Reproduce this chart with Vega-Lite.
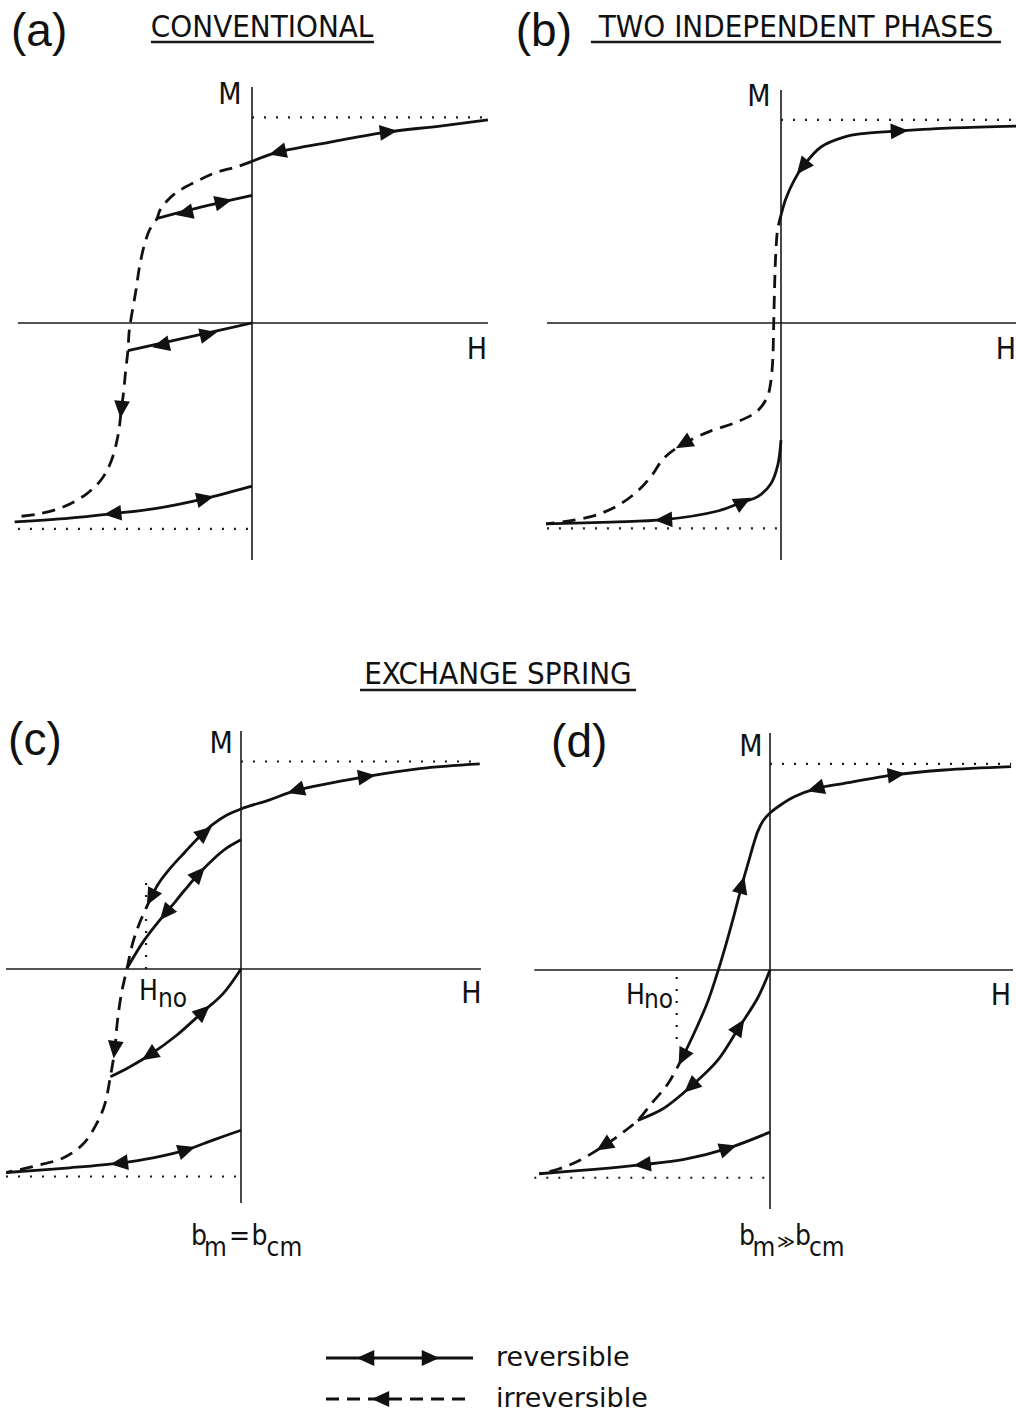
{
  "$schema": "https://vega.github.io/schema/vega-lite/v6.json",
  "background": "white",
  "padding": 0,
  "config": {"view": {"stroke": null}, "concat": {"spacing": 0}},
  "datasets": {
    "fig": [
      {"p":"a","g":"axis","s":"h","i":0,"H":-0.996,"M":0},
      {"p":"a","g":"axis","s":"h","i":1,"H":1.004,"M":0},
      {"p":"a","g":"axis","s":"v","i":0,"H":0,"M":1.004},
      {"p":"a","g":"axis","s":"v","i":1,"H":0,"M":-1.009},
      {"p":"a","g":"dot","s":"t","i":0,"H":0,"M":0.875},
      {"p":"a","g":"dot","s":"t","i":1,"H":1.004,"M":0.875},
      {"p":"a","g":"dot","s":"b","i":0,"H":-0.996,"M":-0.876},
      {"p":"a","g":"dot","s":"b","i":1,"H":0,"M":-0.876},
      {"p":"a","g":"uline","s":"u","i":0,"H":-0.43,"M":1.196},
      {"p":"a","g":"uline","s":"u","i":1,"H":0.519,"M":1.196},
      {"p":"a","g":"rev","s":"1","i":0,"H":1.004,"M":0.864},
      {"p":"a","g":"rev","s":"1","i":1,"H":0.8,"M":0.838},
      {"p":"a","g":"rev","s":"1","i":2,"H":0.579,"M":0.813},
      {"p":"a","g":"rev","s":"1","i":3,"H":0.345,"M":0.772},
      {"p":"a","g":"rev","s":"1","i":4,"H":0.111,"M":0.727},
      {"p":"a","g":"rev","s":"1","i":5,"H":0,"M":0.688},
      {"p":"a","g":"rev","s":"2","i":0,"H":-0.404,"M":0.445},
      {"p":"a","g":"rev","s":"2","i":1,"H":-0.2,"M":0.497},
      {"p":"a","g":"rev","s":"2","i":2,"H":0,"M":0.543},
      {"p":"a","g":"rev","s":"3","i":0,"H":-0.528,"M":-0.118},
      {"p":"a","g":"rev","s":"3","i":1,"H":-0.26,"M":-0.058},
      {"p":"a","g":"rev","s":"3","i":2,"H":0,"M":0},
      {"p":"a","g":"rev","s":"4","i":0,"H":0,"M":-0.694},
      {"p":"a","g":"rev","s":"4","i":1,"H":-0.201,"M":-0.747},
      {"p":"a","g":"rev","s":"4","i":2,"H":-0.421,"M":-0.791},
      {"p":"a","g":"rev","s":"4","i":3,"H":-0.591,"M":-0.811},
      {"p":"a","g":"rev","s":"4","i":4,"H":-0.776,"M":-0.83},
      {"p":"a","g":"rev","s":"4","i":5,"H":-1.01,"M":-0.846},
      {"p":"a","g":"irr","s":"d","i":0,"H":0,"M":0.688},
      {"p":"a","g":"irr","s":"d","i":1,"H":-0.067,"M":0.664},
      {"p":"a","g":"irr","s":"d","i":2,"H":-0.152,"M":0.641},
      {"p":"a","g":"irr","s":"d","i":3,"H":-0.237,"M":0.602},
      {"p":"a","g":"irr","s":"d","i":4,"H":-0.322,"M":0.555},
      {"p":"a","g":"irr","s":"d","i":5,"H":-0.365,"M":0.516},
      {"p":"a","g":"irr","s":"d","i":6,"H":-0.393,"M":0.477},
      {"p":"a","g":"irr","s":"d","i":7,"H":-0.404,"M":0.445},
      {"p":"a","g":"irr","s":"d","i":8,"H":-0.435,"M":0.398},
      {"p":"a","g":"irr","s":"d","i":9,"H":-0.457,"M":0.336},
      {"p":"a","g":"irr","s":"d","i":10,"H":-0.478,"M":0.243},
      {"p":"a","g":"irr","s":"d","i":11,"H":-0.495,"M":0.132},
      {"p":"a","g":"irr","s":"d","i":12,"H":-0.514,"M":0.023},
      {"p":"a","g":"irr","s":"d","i":13,"H":-0.523,"M":-0.04},
      {"p":"a","g":"irr","s":"d","i":14,"H":-0.528,"M":-0.118},
      {"p":"a","g":"irr","s":"d","i":15,"H":-0.537,"M":-0.196},
      {"p":"a","g":"irr","s":"d","i":16,"H":-0.546,"M":-0.29},
      {"p":"a","g":"irr","s":"d","i":17,"H":-0.556,"M":-0.368},
      {"p":"a","g":"irr","s":"d","i":18,"H":-0.57,"M":-0.478},
      {"p":"a","g":"irr","s":"d","i":19,"H":-0.599,"M":-0.587},
      {"p":"a","g":"irr","s":"d","i":20,"H":-0.641,"M":-0.666},
      {"p":"a","g":"irr","s":"d","i":21,"H":-0.705,"M":-0.728},
      {"p":"a","g":"irr","s":"d","i":22,"H":-0.804,"M":-0.783},
      {"p":"a","g":"irr","s":"d","i":23,"H":-0.918,"M":-0.814},
      {"p":"a","g":"irr","s":"d","i":24,"H":-1.01,"M":-0.825},
      {"p":"a","g":"arr","H":0.579,"M":0.813,"heading":83},
      {"p":"a","g":"arr","H":0.111,"M":0.727,"heading":256},
      {"p":"a","g":"arr","H":-0.286,"M":0.468,"heading":257},
      {"p":"a","g":"arr","H":-0.123,"M":0.516,"heading":77},
      {"p":"a","g":"arr","H":-0.386,"M":-0.094,"heading":257},
      {"p":"a","g":"arr","H":-0.187,"M":-0.048,"heading":77},
      {"p":"a","g":"arr","H":-0.556,"M":-0.366,"heading":185},
      {"p":"a","g":"arr","H":-0.201,"M":-0.747,"heading":77},
      {"p":"a","g":"arr","H":-0.591,"M":-0.811,"heading":264},
      {"p":"a","g":"tag","t":"(a)","H":-0.906,"M":1.238},
      {"p":"a","g":"title","t":"CONVENTIONAL","H":0.043,"M":1.257},
      {"p":"a","g":"lab","t":"M","H":-0.094,"M":0.97},
      {"p":"a","g":"lab","t":"H","H":0.957,"M":-0.115},

      {"p":"b","g":"axis","s":"h","i":0,"H":-0.996,"M":0},
      {"p":"b","g":"axis","s":"h","i":1,"H":1.009,"M":0},
      {"p":"b","g":"axis","s":"v","i":0,"H":0,"M":0.991},
      {"p":"b","g":"axis","s":"v","i":1,"H":0,"M":-1.009},
      {"p":"b","g":"dot","s":"t","i":0,"H":0,"M":0.864},
      {"p":"b","g":"dot","s":"t","i":1,"H":1.009,"M":0.864},
      {"p":"b","g":"dot","s":"b","i":0,"H":-0.996,"M":-0.874},
      {"p":"b","g":"dot","s":"b","i":1,"H":0,"M":-0.874},
      {"p":"b","g":"uline","s":"u","i":0,"H":-0.809,"M":1.196},
      {"p":"b","g":"uline","s":"u","i":1,"H":0.936,"M":1.196},
      {"p":"b","g":"rev","s":"1","i":0,"H":1.009,"M":0.838},
      {"p":"b","g":"rev","s":"1","i":1,"H":0.732,"M":0.83},
      {"p":"b","g":"rev","s":"1","i":2,"H":0.502,"M":0.817},
      {"p":"b","g":"rev","s":"1","i":3,"H":0.349,"M":0.806},
      {"p":"b","g":"rev","s":"1","i":4,"H":0.268,"M":0.791},
      {"p":"b","g":"rev","s":"1","i":5,"H":0.17,"M":0.749},
      {"p":"b","g":"rev","s":"1","i":6,"H":0.092,"M":0.664},
      {"p":"b","g":"rev","s":"1","i":7,"H":0.057,"M":0.609},
      {"p":"b","g":"rev","s":"1","i":8,"H":0.021,"M":0.53},
      {"p":"b","g":"rev","s":"1","i":9,"H":0.003,"M":0.47},
      {"p":"b","g":"irr","s":"d","i":0,"H":0.003,"M":0.47},
      {"p":"b","g":"irr","s":"d","i":1,"H":-0.014,"M":0.4},
      {"p":"b","g":"irr","s":"d","i":2,"H":-0.022,"M":0.3},
      {"p":"b","g":"irr","s":"d","i":3,"H":-0.026,"M":0.2},
      {"p":"b","g":"irr","s":"d","i":4,"H":-0.031,"M":0},
      {"p":"b","g":"irr","s":"d","i":5,"H":-0.035,"M":-0.155},
      {"p":"b","g":"irr","s":"d","i":6,"H":-0.043,"M":-0.247},
      {"p":"b","g":"irr","s":"d","i":7,"H":-0.057,"M":-0.311},
      {"p":"b","g":"irr","s":"d","i":8,"H":-0.099,"M":-0.373},
      {"p":"b","g":"irr","s":"d","i":9,"H":-0.184,"M":-0.42},
      {"p":"b","g":"irr","s":"d","i":10,"H":-0.298,"M":-0.459},
      {"p":"b","g":"irr","s":"d","i":11,"H":-0.413,"M":-0.513},
      {"p":"b","g":"irr","s":"d","i":12,"H":-0.498,"M":-0.575},
      {"p":"b","g":"irr","s":"d","i":13,"H":-0.553,"M":-0.653},
      {"p":"b","g":"irr","s":"d","i":14,"H":-0.61,"M":-0.715},
      {"p":"b","g":"irr","s":"d","i":15,"H":-0.695,"M":-0.777},
      {"p":"b","g":"irr","s":"d","i":16,"H":-0.809,"M":-0.824},
      {"p":"b","g":"irr","s":"d","i":17,"H":-1.0,"M":-0.855},
      {"p":"b","g":"rev","s":"2","i":0,"H":0,"M":-0.498},
      {"p":"b","g":"rev","s":"2","i":1,"H":-0.014,"M":-0.606},
      {"p":"b","g":"rev","s":"2","i":2,"H":-0.043,"M":-0.684},
      {"p":"b","g":"rev","s":"2","i":3,"H":-0.099,"M":-0.739},
      {"p":"b","g":"rev","s":"2","i":4,"H":-0.163,"M":-0.762},
      {"p":"b","g":"rev","s":"2","i":5,"H":-0.269,"M":-0.8},
      {"p":"b","g":"rev","s":"2","i":6,"H":-0.498,"M":-0.837},
      {"p":"b","g":"rev","s":"2","i":7,"H":-0.723,"M":-0.847},
      {"p":"b","g":"rev","s":"2","i":8,"H":-1.0,"M":-0.855},
      {"p":"b","g":"arr","H":0.502,"M":0.817,"heading":87},
      {"p":"b","g":"arr","H":0.092,"M":0.664,"heading":219},
      {"p":"b","g":"arr","H":-0.413,"M":-0.513,"heading":240},
      {"p":"b","g":"arr","H":-0.163,"M":-0.762,"heading":62},
      {"p":"b","g":"arr","H":-0.498,"M":-0.837,"heading":267},
      {"p":"b","g":"tag","t":"(b)","H":-1.009,"M":1.238},
      {"p":"b","g":"title","t":"TWO INDEPENDENT PHASES","H":0.064,"M":1.257},
      {"p":"b","g":"lab","t":"M","H":-0.094,"M":0.962},
      {"p":"b","g":"lab","t":"H","H":0.957,"M":-0.115},

      {"p":"hdr","g":"title","t":"EXCHANGE SPRING","H":2.106,"M":-0.149},
      {"p":"hdr","g":"uline","s":"u","i":0,"H":1.519,"M":-0.2128},
      {"p":"hdr","g":"uline","s":"u","i":1,"H":2.694,"M":-0.2128},

      {"p":"c","g":"axis","s":"h","i":0,"H":-1.0,"M":0},
      {"p":"c","g":"axis","s":"h","i":1,"H":1.021,"M":0},
      {"p":"c","g":"axis","s":"v","i":0,"H":0,"M":1.013},
      {"p":"c","g":"axis","s":"v","i":1,"H":0,"M":-0.996},
      {"p":"c","g":"dot","s":"t","i":0,"H":0,"M":0.883},
      {"p":"c","g":"dot","s":"t","i":1,"H":1.016,"M":0.883},
      {"p":"c","g":"dot","s":"b","i":0,"H":-1.0,"M":-0.883},
      {"p":"c","g":"dot","s":"b","i":1,"H":0,"M":-0.883},
      {"p":"c","g":"dot","s":"n","i":0,"H":-0.404,"M":0},
      {"p":"c","g":"dot","s":"n","i":1,"H":-0.404,"M":0.37},
      {"p":"c","g":"rev","s":"1","i":0,"H":1.016,"M":0.873},
      {"p":"c","g":"rev","s":"1","i":1,"H":0.76,"M":0.853},
      {"p":"c","g":"rev","s":"1","i":2,"H":0.533,"M":0.819},
      {"p":"c","g":"rev","s":"1","i":3,"H":0.235,"M":0.76},
      {"p":"c","g":"rev","s":"1","i":4,"H":0.122,"M":0.72},
      {"p":"c","g":"rev","s":"1","i":5,"H":0,"M":0.681},
      {"p":"c","g":"rev","s":"1","i":6,"H":-0.06,"M":0.655},
      {"p":"c","g":"rev","s":"1","i":7,"H":-0.12,"M":0.615},
      {"p":"c","g":"rev","s":"1","i":8,"H":-0.18,"M":0.56},
      {"p":"c","g":"rev","s":"1","i":9,"H":-0.24,"M":0.496},
      {"p":"c","g":"rev","s":"1","i":10,"H":-0.3,"M":0.43},
      {"p":"c","g":"rev","s":"1","i":11,"H":-0.35,"M":0.365},
      {"p":"c","g":"rev","s":"1","i":12,"H":-0.382,"M":0.306},
      {"p":"c","g":"irr","s":"d","i":0,"H":-0.382,"M":0.306},
      {"p":"c","g":"irr","s":"d","i":1,"H":-0.431,"M":0.197},
      {"p":"c","g":"irr","s":"d","i":2,"H":-0.46,"M":0.113},
      {"p":"c","g":"irr","s":"d","i":3,"H":-0.485,"M":0.003},
      {"p":"c","g":"irr","s":"d","i":4,"H":-0.509,"M":-0.106},
      {"p":"c","g":"irr","s":"d","i":5,"H":-0.526,"M":-0.223},
      {"p":"c","g":"irr","s":"d","i":6,"H":-0.537,"M":-0.341},
      {"p":"c","g":"irr","s":"d","i":7,"H":-0.556,"M":-0.459},
      {"p":"c","g":"irr","s":"d","i":8,"H":-0.58,"M":-0.577},
      {"p":"c","g":"irr","s":"d","i":9,"H":-0.616,"M":-0.661},
      {"p":"c","g":"irr","s":"d","i":10,"H":-0.672,"M":-0.745},
      {"p":"c","g":"irr","s":"d","i":11,"H":-0.757,"M":-0.804},
      {"p":"c","g":"irr","s":"d","i":12,"H":-0.871,"M":-0.837},
      {"p":"c","g":"irr","s":"d","i":13,"H":-0.999,"M":-0.866},
      {"p":"c","g":"rev","s":"2","i":0,"H":0,"M":0.55},
      {"p":"c","g":"rev","s":"2","i":1,"H":-0.06,"M":0.515},
      {"p":"c","g":"rev","s":"2","i":2,"H":-0.12,"M":0.465},
      {"p":"c","g":"rev","s":"2","i":3,"H":-0.18,"M":0.405},
      {"p":"c","g":"rev","s":"2","i":4,"H":-0.24,"M":0.335},
      {"p":"c","g":"rev","s":"2","i":5,"H":-0.3,"M":0.262},
      {"p":"c","g":"rev","s":"2","i":6,"H":-0.36,"M":0.19},
      {"p":"c","g":"rev","s":"2","i":7,"H":-0.42,"M":0.11},
      {"p":"c","g":"rev","s":"2","i":8,"H":-0.485,"M":0.003},
      {"p":"c","g":"rev","s":"3","i":0,"H":0,"M":0},
      {"p":"c","g":"rev","s":"3","i":1,"H":-0.077,"M":-0.106},
      {"p":"c","g":"rev","s":"3","i":2,"H":-0.162,"M":-0.182},
      {"p":"c","g":"rev","s":"3","i":3,"H":-0.275,"M":-0.283},
      {"p":"c","g":"rev","s":"3","i":4,"H":-0.389,"M":-0.366},
      {"p":"c","g":"rev","s":"3","i":5,"H":-0.474,"M":-0.417},
      {"p":"c","g":"rev","s":"3","i":6,"H":-0.556,"M":-0.459},
      {"p":"c","g":"rev","s":"4","i":0,"H":0,"M":-0.686},
      {"p":"c","g":"rev","s":"4","i":1,"H":-0.119,"M":-0.728},
      {"p":"c","g":"rev","s":"4","i":2,"H":-0.233,"M":-0.77},
      {"p":"c","g":"rev","s":"4","i":3,"H":-0.374,"M":-0.804},
      {"p":"c","g":"rev","s":"4","i":4,"H":-0.516,"M":-0.826},
      {"p":"c","g":"rev","s":"4","i":5,"H":-0.729,"M":-0.846},
      {"p":"c","g":"rev","s":"4","i":6,"H":-0.999,"M":-0.866},
      {"p":"c","g":"arr","H":0.533,"M":0.819,"heading":82},
      {"p":"c","g":"arr","H":0.235,"M":0.76,"heading":253},
      {"p":"c","g":"arr","H":-0.155,"M":0.58,"heading":50},
      {"p":"c","g":"arr","H":-0.382,"M":0.306,"heading":208},
      {"p":"c","g":"arr","H":-0.18,"M":0.405,"heading":42},
      {"p":"c","g":"arr","H":-0.32,"M":0.238,"heading":220},
      {"p":"c","g":"arr","H":-0.537,"M":-0.341,"heading":187},
      {"p":"c","g":"arr","H":-0.162,"M":-0.182,"heading":48},
      {"p":"c","g":"arr","H":-0.389,"M":-0.366,"heading":236},
      {"p":"c","g":"arr","H":-0.233,"M":-0.77,"heading":72},
      {"p":"c","g":"arr","H":-0.516,"M":-0.826,"heading":263},
      {"p":"c","g":"tag","t":"(c)","H":-0.877,"M":0.97},
      {"p":"c","g":"lab","t":"M","H":-0.085,"M":0.958},
      {"p":"c","g":"lab","t":"H","H":0.98,"M":-0.106},
      {"p":"c","g":"txt","t":"H","H":-0.434,"M":-0.132},
      {"p":"c","g":"sub","t":"no","H":-0.353,"M":-0.162},
      {"p":"c","g":"txt","t":"b","H":-0.213,"M":-1.174},
      {"p":"c","g":"sub","t":"m","H":-0.157,"M":-1.221},
      {"p":"c","g":"txt","t":"=","H":-0.051,"M":-1.174},
      {"p":"c","g":"txt","t":"b","H":0.045,"M":-1.174},
      {"p":"c","g":"sub","t":"cm","H":0.109,"M":-1.221},

      {"p":"d","g":"axis","s":"h","i":0,"H":-1.003,"M":0},
      {"p":"d","g":"axis","s":"h","i":1,"H":1.034,"M":0},
      {"p":"d","g":"axis","s":"v","i":0,"H":0,"M":1.009},
      {"p":"d","g":"axis","s":"v","i":1,"H":0,"M":-1.017},
      {"p":"d","g":"dot","s":"t","i":0,"H":0,"M":0.877},
      {"p":"d","g":"dot","s":"t","i":1,"H":1.026,"M":0.877},
      {"p":"d","g":"dot","s":"b","i":0,"H":-1.003,"M":-0.884},
      {"p":"d","g":"dot","s":"b","i":1,"H":0,"M":-0.884},
      {"p":"d","g":"dot","s":"n","i":0,"H":-0.397,"M":-0.03},
      {"p":"d","g":"dot","s":"n","i":1,"H":-0.397,"M":-0.33},
      {"p":"d","g":"rev","s":"1","i":0,"H":1.026,"M":0.865},
      {"p":"d","g":"rev","s":"1","i":1,"H":0.742,"M":0.851},
      {"p":"d","g":"rev","s":"1","i":2,"H":0.536,"M":0.831},
      {"p":"d","g":"rev","s":"1","i":3,"H":0.316,"M":0.794},
      {"p":"d","g":"rev","s":"1","i":4,"H":0.196,"M":0.772},
      {"p":"d","g":"rev","s":"1","i":5,"H":0.103,"M":0.737},
      {"p":"d","g":"rev","s":"1","i":6,"H":0.045,"M":0.702},
      {"p":"d","g":"rev","s":"1","i":7,"H":0,"M":0.668},
      {"p":"d","g":"rev","s":"1","i":8,"H":-0.03,"M":0.634},
      {"p":"d","g":"rev","s":"1","i":9,"H":-0.052,"M":0.59},
      {"p":"d","g":"rev","s":"1","i":10,"H":-0.07,"M":0.535},
      {"p":"d","g":"rev","s":"1","i":11,"H":-0.09,"M":0.465},
      {"p":"d","g":"rev","s":"1","i":12,"H":-0.116,"M":0.375},
      {"p":"d","g":"rev","s":"1","i":13,"H":-0.152,"M":0.237},
      {"p":"d","g":"rev","s":"1","i":14,"H":-0.194,"M":0.086},
      {"p":"d","g":"rev","s":"1","i":15,"H":-0.23,"M":-0.032},
      {"p":"d","g":"rev","s":"1","i":16,"H":-0.265,"M":-0.135},
      {"p":"d","g":"rev","s":"1","i":17,"H":-0.308,"M":-0.236},
      {"p":"d","g":"rev","s":"1","i":18,"H":-0.371,"M":-0.37},
      {"p":"d","g":"irr","s":"d","i":0,"H":-0.371,"M":-0.37},
      {"p":"d","g":"irr","s":"d","i":1,"H":-0.435,"M":-0.485},
      {"p":"d","g":"irr","s":"d","i":2,"H":-0.506,"M":-0.57},
      {"p":"d","g":"irr","s":"d","i":3,"H":-0.563,"M":-0.64},
      {"p":"d","g":"irr","s":"d","i":4,"H":-0.634,"M":-0.697},
      {"p":"d","g":"irr","s":"d","i":5,"H":-0.705,"M":-0.747},
      {"p":"d","g":"irr","s":"d","i":6,"H":-0.818,"M":-0.814},
      {"p":"d","g":"irr","s":"d","i":7,"H":-0.903,"M":-0.848},
      {"p":"d","g":"irr","s":"d","i":8,"H":-0.982,"M":-0.867},
      {"p":"d","g":"rev","s":"2","i":0,"H":0,"M":0},
      {"p":"d","g":"rev","s":"2","i":1,"H":-0.052,"M":-0.118},
      {"p":"d","g":"rev","s":"2","i":2,"H":-0.131,"M":-0.243},
      {"p":"d","g":"rev","s":"2","i":3,"H":-0.223,"M":-0.385},
      {"p":"d","g":"rev","s":"2","i":4,"H":-0.336,"M":-0.495},
      {"p":"d","g":"rev","s":"2","i":5,"H":-0.45,"M":-0.587},
      {"p":"d","g":"rev","s":"2","i":6,"H":-0.563,"M":-0.64},
      {"p":"d","g":"rev","s":"3","i":0,"H":0,"M":-0.69},
      {"p":"d","g":"rev","s":"3","i":1,"H":-0.18,"M":-0.759},
      {"p":"d","g":"rev","s":"3","i":2,"H":-0.365,"M":-0.806},
      {"p":"d","g":"rev","s":"3","i":3,"H":-0.542,"M":-0.828},
      {"p":"d","g":"rev","s":"3","i":4,"H":-0.748,"M":-0.848},
      {"p":"d","g":"rev","s":"3","i":5,"H":-0.982,"M":-0.867},
      {"p":"d","g":"arr","H":0.536,"M":0.831,"heading":83},
      {"p":"d","g":"arr","H":0.196,"M":0.772,"heading":254},
      {"p":"d","g":"arr","H":-0.12,"M":0.36,"heading":15},
      {"p":"d","g":"arr","H":-0.371,"M":-0.37,"heading":207},
      {"p":"d","g":"arr","H":-0.705,"M":-0.747,"heading":237},
      {"p":"d","g":"arr","H":-0.131,"M":-0.243,"heading":33},
      {"p":"d","g":"arr","H":-0.336,"M":-0.495,"heading":228},
      {"p":"d","g":"arr","H":-0.18,"M":-0.759,"heading":72},
      {"p":"d","g":"arr","H":-0.542,"M":-0.828,"heading":264},
      {"p":"d","g":"tag","t":"(d)","H":-0.812,"M":0.965},
      {"p":"d","g":"lab","t":"M","H":-0.081,"M":0.95},
      {"p":"d","g":"lab","t":"H","H":0.983,"M":-0.11},
      {"p":"d","g":"txt","t":"H","H":-0.613,"M":-0.145},
      {"p":"d","g":"sub","t":"no","H":-0.536,"M":-0.162},
      {"p":"d","g":"txt","t":"b","H":-0.132,"M":-1.17},
      {"p":"d","g":"sub","t":"m","H":-0.075,"M":-1.217},
      {"p":"d","g":"sym","t":"≫","H":0.03,"M":-1.185},
      {"p":"d","g":"txt","t":"b","H":0.106,"M":-1.17},
      {"p":"d","g":"sub","t":"cm","H":0.166,"M":-1.217},

      {"p":"leg","g":"rev","s":"r","i":0,"H":1.3745,"M":-0.2468},
      {"p":"leg","g":"rev","s":"r","i":1,"H":2.0,"M":-0.2468},
      {"p":"leg","g":"irr","s":"q","i":0,"H":1.3745,"M":-0.4213},
      {"p":"leg","g":"irr","s":"q","i":1,"H":2.0,"M":-0.4213},
      {"p":"leg","g":"arr","H":1.5447,"M":-0.2468,"heading":270},
      {"p":"leg","g":"arr","H":1.817,"M":-0.2468,"heading":90},
      {"p":"leg","g":"arr","H":1.6085,"M":-0.4213,"heading":270},
      {"p":"leg","g":"key","t":"reversible","H":2.098,"M":-0.2468},
      {"p":"leg","g":"key","t":"irreversible","H":2.098,"M":-0.4213}
    ]
  },
  "vconcat": [
    {
      "hconcat": [
        {
          "width": 508, "height": 640,
          "data": {"name": "fig"},
          "transform": [{"filter": "datum.p == 'a'"}],
          "encoding": {
            "x": {"field": "H", "type": "quantitative", "axis": null, "scale": {"domain": [-1.05957, 1.10213], "nice": false, "zero": false}},
            "y": {"field": "M", "type": "quantitative", "axis": null, "scale": {"domain": [-1.34894, 1.37447], "nice": false, "zero": false}}
          },
          "layer": [
            {"transform": [{"filter": "datum.g == 'axis'"}], "mark": {"type": "line", "color": "#1a1a1a", "strokeWidth": 1.6}, "encoding": {"detail": {"field": "s", "type": "nominal"}, "order": {"field": "i", "type": "quantitative"}}},
            {"transform": [{"filter": "datum.g == 'dot'"}], "mark": {"type": "line", "color": "#1a1a1a", "strokeWidth": 2.2, "strokeDash": [2, 10]}, "encoding": {"detail": {"field": "s", "type": "nominal"}, "order": {"field": "i", "type": "quantitative"}}},
            {"transform": [{"filter": "datum.g == 'uline'"}], "mark": {"type": "line", "color": "#1a1a1a", "strokeWidth": 2.6}, "encoding": {"detail": {"field": "s", "type": "nominal"}, "order": {"field": "i", "type": "quantitative"}}},
            {"transform": [{"filter": "datum.g == 'rev'"}], "mark": {"type": "line", "color": "#111", "strokeWidth": 2.8, "interpolate": "catmull-rom"}, "encoding": {"detail": {"field": "s", "type": "nominal"}, "order": {"field": "i", "type": "quantitative"}}},
            {"transform": [{"filter": "datum.g == 'irr'"}], "mark": {"type": "line", "color": "#111", "strokeWidth": 2.8, "strokeDash": [13, 8], "interpolate": "catmull-rom"}, "encoding": {"detail": {"field": "s", "type": "nominal"}, "order": {"field": "i", "type": "quantitative"}}},
            {"transform": [{"filter": "datum.g == 'arr'"}], "mark": {"type": "point", "shape": "M0,-0.85L0.72,0.75L-0.72,0.75Z", "filled": true, "color": "#111", "opacity": 1, "size": 480}, "encoding": {"angle": {"field": "heading", "type": "quantitative", "scale": null}}},
            {"transform": [{"filter": "datum.g == 'tag'"}], "mark": {"type": "text", "font": "Liberation Sans", "fontSize": 46, "align": "center", "baseline": "middle", "color": "#111"}, "encoding": {"text": {"field": "t"}}},
            {"transform": [{"filter": "datum.g == 'title'"}], "mark": {"type": "text", "font": "DejaVu Sans Condensed, DejaVu Sans", "fontSize": 31, "align": "center", "baseline": "middle", "color": "#111"}, "encoding": {"text": {"field": "t"}}},
            {"transform": [{"filter": "datum.g == 'lab'"}], "mark": {"type": "text", "font": "DejaVu Sans Condensed, DejaVu Sans", "fontSize": 30, "align": "center", "baseline": "middle", "color": "#111"}, "encoding": {"text": {"field": "t"}}}
          ]
        },
        {
          "width": 508, "height": 640,
          "data": {"name": "fig"},
          "transform": [{"filter": "datum.p == 'b'"}],
          "encoding": {
            "x": {"field": "H", "type": "quantitative", "axis": null, "scale": {"domain": [-1.14894, 1.01277], "nice": false, "zero": false}},
            "y": {"field": "M", "type": "quantitative", "axis": null, "scale": {"domain": [-1.34894, 1.37447], "nice": false, "zero": false}}
          },
          "layer": [
            {"transform": [{"filter": "datum.g == 'axis'"}], "mark": {"type": "line", "color": "#1a1a1a", "strokeWidth": 1.6}, "encoding": {"detail": {"field": "s", "type": "nominal"}, "order": {"field": "i", "type": "quantitative"}}},
            {"transform": [{"filter": "datum.g == 'dot'"}], "mark": {"type": "line", "color": "#1a1a1a", "strokeWidth": 2.2, "strokeDash": [2, 10]}, "encoding": {"detail": {"field": "s", "type": "nominal"}, "order": {"field": "i", "type": "quantitative"}}},
            {"transform": [{"filter": "datum.g == 'uline'"}], "mark": {"type": "line", "color": "#1a1a1a", "strokeWidth": 2.6}, "encoding": {"detail": {"field": "s", "type": "nominal"}, "order": {"field": "i", "type": "quantitative"}}},
            {"transform": [{"filter": "datum.g == 'rev'"}], "mark": {"type": "line", "color": "#111", "strokeWidth": 2.8, "interpolate": "catmull-rom"}, "encoding": {"detail": {"field": "s", "type": "nominal"}, "order": {"field": "i", "type": "quantitative"}}},
            {"transform": [{"filter": "datum.g == 'irr'"}], "mark": {"type": "line", "color": "#111", "strokeWidth": 2.8, "strokeDash": [13, 8], "interpolate": "catmull-rom"}, "encoding": {"detail": {"field": "s", "type": "nominal"}, "order": {"field": "i", "type": "quantitative"}}},
            {"transform": [{"filter": "datum.g == 'arr'"}], "mark": {"type": "point", "shape": "M0,-0.85L0.72,0.75L-0.72,0.75Z", "filled": true, "color": "#111", "opacity": 1, "size": 480}, "encoding": {"angle": {"field": "heading", "type": "quantitative", "scale": null}}},
            {"transform": [{"filter": "datum.g == 'tag'"}], "mark": {"type": "text", "font": "Liberation Sans", "fontSize": 46, "align": "center", "baseline": "middle", "color": "#111"}, "encoding": {"text": {"field": "t"}}},
            {"transform": [{"filter": "datum.g == 'title'"}], "mark": {"type": "text", "font": "DejaVu Sans Condensed, DejaVu Sans", "fontSize": 31, "align": "center", "baseline": "middle", "color": "#111"}, "encoding": {"text": {"field": "t"}}},
            {"transform": [{"filter": "datum.g == 'lab'"}], "mark": {"type": "text", "font": "DejaVu Sans Condensed, DejaVu Sans", "fontSize": 30, "align": "center", "baseline": "middle", "color": "#111"}, "encoding": {"text": {"field": "t"}}}
          ]
        }
      ],
      "spacing": 0
    },
    {
      "width": 1016, "height": 60,
      "data": {"name": "fig"},
      "transform": [{"filter": "datum.p == 'hdr'"}],
      "encoding": {
        "x": {"field": "H", "type": "quantitative", "axis": null, "scale": {"domain": [0, 4.3234], "nice": false, "zero": false}},
        "y": {"field": "M", "type": "quantitative", "axis": null, "scale": {"domain": [-0.25532, 0], "nice": false, "zero": false}}
      },
      "layer": [
        {"transform": [{"filter": "datum.g == 'uline'"}], "mark": {"type": "line", "color": "#1a1a1a", "strokeWidth": 2.6}, "encoding": {"detail": {"field": "s", "type": "nominal"}, "order": {"field": "i", "type": "quantitative"}}},
        {"transform": [{"filter": "datum.g == 'title'"}], "mark": {"type": "text", "font": "DejaVu Sans Condensed, DejaVu Sans", "fontSize": 31, "align": "center", "baseline": "middle", "color": "#111"}, "encoding": {"text": {"field": "t"}}}
      ]
    },
    {
      "hconcat": [
        {
          "width": 508, "height": 600,
          "data": {"name": "fig"},
          "transform": [{"filter": "datum.p == 'c'"}],
          "encoding": {
            "x": {"field": "H", "type": "quantitative", "axis": null, "scale": {"domain": [-1.01277, 1.14894], "nice": false, "zero": false}},
            "y": {"field": "M", "type": "quantitative", "axis": null, "scale": {"domain": [-1.40851, 1.14468], "nice": false, "zero": false}}
          },
          "layer": [
            {"transform": [{"filter": "datum.g == 'axis'"}], "mark": {"type": "line", "color": "#1a1a1a", "strokeWidth": 1.6}, "encoding": {"detail": {"field": "s", "type": "nominal"}, "order": {"field": "i", "type": "quantitative"}}},
            {"transform": [{"filter": "datum.g == 'dot'"}], "mark": {"type": "line", "color": "#1a1a1a", "strokeWidth": 2.2, "strokeDash": [2, 10]}, "encoding": {"detail": {"field": "s", "type": "nominal"}, "order": {"field": "i", "type": "quantitative"}}},
            {"transform": [{"filter": "datum.g == 'rev'"}], "mark": {"type": "line", "color": "#111", "strokeWidth": 2.8, "interpolate": "catmull-rom"}, "encoding": {"detail": {"field": "s", "type": "nominal"}, "order": {"field": "i", "type": "quantitative"}}},
            {"transform": [{"filter": "datum.g == 'irr'"}], "mark": {"type": "line", "color": "#111", "strokeWidth": 2.8, "strokeDash": [13, 8], "interpolate": "catmull-rom"}, "encoding": {"detail": {"field": "s", "type": "nominal"}, "order": {"field": "i", "type": "quantitative"}}},
            {"transform": [{"filter": "datum.g == 'arr'"}], "mark": {"type": "point", "shape": "M0,-0.85L0.72,0.75L-0.72,0.75Z", "filled": true, "color": "#111", "opacity": 1, "size": 480}, "encoding": {"angle": {"field": "heading", "type": "quantitative", "scale": null}}},
            {"transform": [{"filter": "datum.g == 'tag'"}], "mark": {"type": "text", "font": "Liberation Sans", "fontSize": 46, "align": "center", "baseline": "middle", "color": "#111"}, "encoding": {"text": {"field": "t"}}},
            {"transform": [{"filter": "datum.g == 'lab'"}], "mark": {"type": "text", "font": "DejaVu Sans Condensed, DejaVu Sans", "fontSize": 30, "align": "center", "baseline": "middle", "color": "#111"}, "encoding": {"text": {"field": "t"}}},
            {"transform": [{"filter": "datum.g == 'txt'"}], "mark": {"type": "text", "font": "DejaVu Sans Condensed, DejaVu Sans", "fontSize": 28, "align": "left", "baseline": "alphabetic", "color": "#111"}, "encoding": {"text": {"field": "t"}}},
            {"transform": [{"filter": "datum.g == 'sub'"}], "mark": {"type": "text", "font": "DejaVu Sans Condensed, DejaVu Sans", "fontSize": 26, "align": "left", "baseline": "alphabetic", "color": "#111"}, "encoding": {"text": {"field": "t"}}}
          ]
        },
        {
          "width": 508, "height": 600,
          "data": {"name": "fig"},
          "transform": [{"filter": "datum.p == 'd'"}],
          "encoding": {
            "x": {"field": "H", "type": "quantitative", "axis": null, "scale": {"domain": [-1.10213, 1.05957], "nice": false, "zero": false}},
            "y": {"field": "M", "type": "quantitative", "axis": null, "scale": {"domain": [-1.40426, 1.14894], "nice": false, "zero": false}}
          },
          "layer": [
            {"transform": [{"filter": "datum.g == 'axis'"}], "mark": {"type": "line", "color": "#1a1a1a", "strokeWidth": 1.6}, "encoding": {"detail": {"field": "s", "type": "nominal"}, "order": {"field": "i", "type": "quantitative"}}},
            {"transform": [{"filter": "datum.g == 'dot'"}], "mark": {"type": "line", "color": "#1a1a1a", "strokeWidth": 2.2, "strokeDash": [2, 10]}, "encoding": {"detail": {"field": "s", "type": "nominal"}, "order": {"field": "i", "type": "quantitative"}}},
            {"transform": [{"filter": "datum.g == 'rev'"}], "mark": {"type": "line", "color": "#111", "strokeWidth": 2.8, "interpolate": "catmull-rom"}, "encoding": {"detail": {"field": "s", "type": "nominal"}, "order": {"field": "i", "type": "quantitative"}}},
            {"transform": [{"filter": "datum.g == 'irr'"}], "mark": {"type": "line", "color": "#111", "strokeWidth": 2.8, "strokeDash": [13, 8], "interpolate": "catmull-rom"}, "encoding": {"detail": {"field": "s", "type": "nominal"}, "order": {"field": "i", "type": "quantitative"}}},
            {"transform": [{"filter": "datum.g == 'arr'"}], "mark": {"type": "point", "shape": "M0,-0.85L0.72,0.75L-0.72,0.75Z", "filled": true, "color": "#111", "opacity": 1, "size": 480}, "encoding": {"angle": {"field": "heading", "type": "quantitative", "scale": null}}},
            {"transform": [{"filter": "datum.g == 'tag'"}], "mark": {"type": "text", "font": "Liberation Sans", "fontSize": 46, "align": "center", "baseline": "middle", "color": "#111"}, "encoding": {"text": {"field": "t"}}},
            {"transform": [{"filter": "datum.g == 'lab'"}], "mark": {"type": "text", "font": "DejaVu Sans Condensed, DejaVu Sans", "fontSize": 30, "align": "center", "baseline": "middle", "color": "#111"}, "encoding": {"text": {"field": "t"}}},
            {"transform": [{"filter": "datum.g == 'txt'"}], "mark": {"type": "text", "font": "DejaVu Sans Condensed, DejaVu Sans", "fontSize": 28, "align": "left", "baseline": "alphabetic", "color": "#111"}, "encoding": {"text": {"field": "t"}}},
            {"transform": [{"filter": "datum.g == 'sub'"}], "mark": {"type": "text", "font": "DejaVu Sans Condensed, DejaVu Sans", "fontSize": 26, "align": "left", "baseline": "alphabetic", "color": "#111"}, "encoding": {"text": {"field": "t"}}},
            {"transform": [{"filter": "datum.g == 'sym'"}], "mark": {"type": "text", "font": "DejaVu Sans Condensed, DejaVu Sans", "fontSize": 19, "align": "left", "baseline": "alphabetic", "color": "#111"}, "encoding": {"text": {"field": "t"}}}
          ]
        }
      ],
      "spacing": 0
    },
    {
      "width": 1016, "height": 114,
      "data": {"name": "fig"},
      "transform": [{"filter": "datum.p == 'leg'"}],
      "encoding": {
        "x": {"field": "H", "type": "quantitative", "axis": null, "scale": {"domain": [0, 4.3234], "nice": false, "zero": false}},
        "y": {"field": "M", "type": "quantitative", "axis": null, "scale": {"domain": [-0.48511, 0], "nice": false, "zero": false}}
      },
      "layer": [
        {"transform": [{"filter": "datum.g == 'rev'"}], "mark": {"type": "line", "color": "#111", "strokeWidth": 2.8}, "encoding": {"detail": {"field": "s", "type": "nominal"}, "order": {"field": "i", "type": "quantitative"}}},
        {"transform": [{"filter": "datum.g == 'irr'"}], "mark": {"type": "line", "color": "#111", "strokeWidth": 2.8, "strokeDash": [13, 8]}, "encoding": {"detail": {"field": "s", "type": "nominal"}, "order": {"field": "i", "type": "quantitative"}}},
        {"transform": [{"filter": "datum.g == 'arr'"}], "mark": {"type": "point", "shape": "M0,-0.85L0.72,0.75L-0.72,0.75Z", "filled": true, "color": "#111", "opacity": 1, "size": 480}, "encoding": {"angle": {"field": "heading", "type": "quantitative", "scale": null}}},
        {"transform": [{"filter": "datum.g == 'key'"}], "mark": {"type": "text", "font": "DejaVu Sans", "fontSize": 27, "align": "left", "baseline": "middle", "color": "#111"}, "encoding": {"text": {"field": "t"}}}
      ]
    }
  ],
  "spacing": 0
}
